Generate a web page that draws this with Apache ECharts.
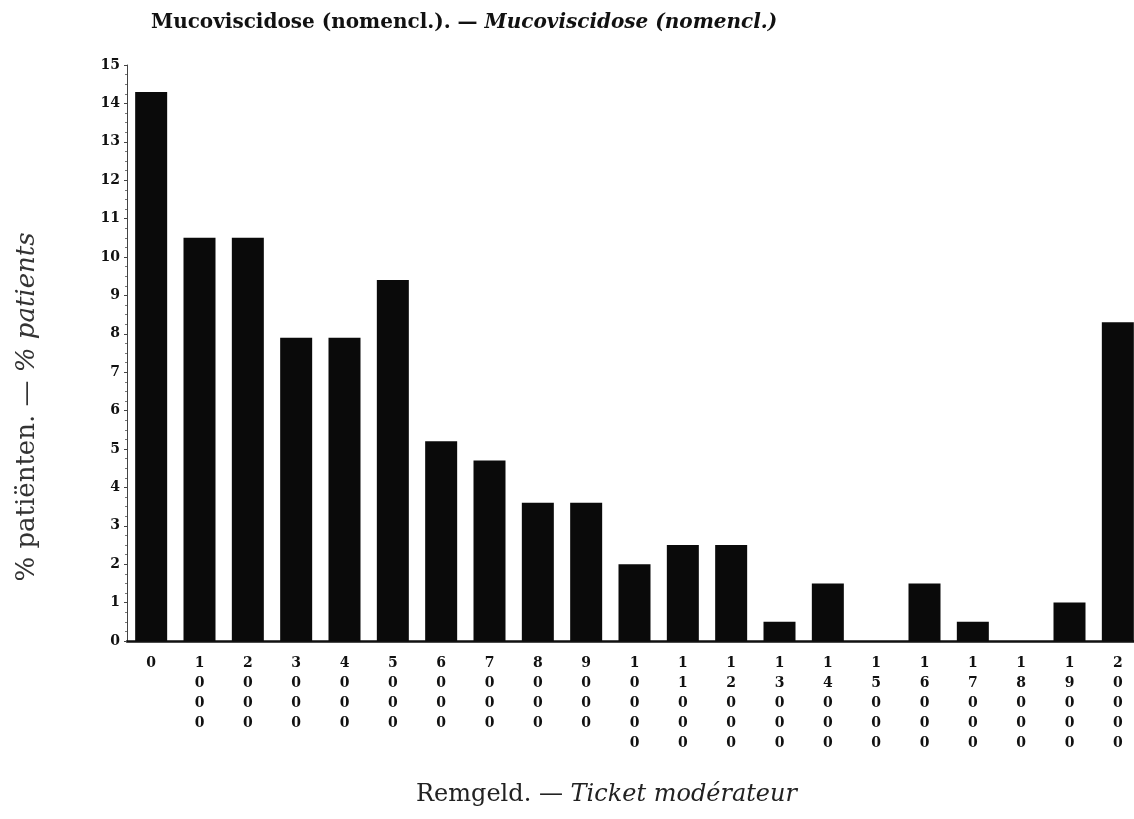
<!DOCTYPE html>
<html>
<head>
<meta charset="utf-8">
<script src="https://cdn.jsdelivr.net/npm/echarts@6/dist/echarts.min.js"></script>
<style>
  html, body { margin: 0; padding: 0; background: #fff; }
  #chart { width: 1134px; height: 819px; }
</style>
</head>
<body>
<div id="chart"></div>
<script>
// Remgeld (ticket moderateur) categories
var categories = ['0', '1000', '2000', '3000', '4000', '5000', '6000', '7000', '8000', '9000', '10000',
  '11000', '12000', '13000', '14000', '15000', '16000', '17000', '18000', '19000', '20000'];
// % patients
var values = [14.3, 10.5, 10.5, 7.9, 7.9, 9.4, 5.2, 4.7, 3.6, 3.6, 2.0,
  2.5, 2.5, 0.5, 1.5, 0, 1.5, 0.5, 0, 1.0, 8.3];

var serif = 'DejaVu Serif';
var chart = echarts.init(document.getElementById('chart'));

var option = {
  backgroundColor: '#fff',
  animation: false,
  title: [
    {
      text: '{a|Mucoviscidose (nomencl.). — }{b|Mucoviscidose (nomencl.)}',
      left: 146,
      top: 8,
      textStyle: {
        rich: {
          a: { fontFamily: serif, fontWeight: 'bold', fontSize: 20, color: '#111' },
          b: { fontFamily: serif, fontWeight: 'bold', fontStyle: 'italic', fontSize: 20, color: '#111' }
        }
      }
    },
    {
      text: '{a|Remgeld. — }{b|Ticket modérateur}',
      left: 411,
      top: 778,
      textStyle: {
        rich: {
          a: { fontFamily: serif, fontWeight: 'normal', fontSize: 24, color: '#222' },
          b: { fontFamily: serif, fontWeight: 'normal', fontStyle: 'italic', fontSize: 24, color: '#222' }
        }
      }
    }
  ],
  graphic: [
    {
      type: 'text',
      x: 27,
      y: 407,
      rotation: Math.PI / 2,
      style: {
        text: '{a|% patiënten. — }{b|% patients}',
        align: 'center',
        verticalAlign: 'middle',
        rich: {
          a: { fontFamily: serif, fontSize: 26, fill: '#333' },
          b: { fontFamily: serif, fontStyle: 'italic', fontSize: 26, fill: '#333' }
        }
      }
    }
  ],
  grid: { left: 127, top: 65, width: 1015, bottom: 178, outerBoundsMode: 'none' },
  xAxis: {
    type: 'category',
    data: categories,
    axisLine: { lineStyle: { color: '#111', width: 2.5 } },
    axisTick: { show: false },
    axisLabel: {
      interval: 0,
      margin: 12,
      verticalAlign: 'top',
      fontFamily: serif,
      fontWeight: 'bold',
      fontSize: 14,
      lineHeight: 20,
      color: '#111',
      formatter: function (v) { return v.split('').join('\n'); }
    }
  },
  yAxis: {
    type: 'value',
    min: 0,
    max: 15,
    interval: 1,
    splitLine: { show: false },
    axisLine: { show: true, lineStyle: { color: '#444', width: 1 } },
    axisTick: { show: true, inside: false, length: 3, lineStyle: { color: '#444' } },
    minorTick: { show: true, splitNumber: 4, length: 2, lineStyle: { color: '#777' } },
    axisLabel: {
      margin: 7,
      fontFamily: serif,
      fontWeight: 'bold',
      fontSize: 14,
      color: '#111'
    }
  },
  series: [
    {
      type: 'bar',
      data: values,
      barWidth: 32,
      itemStyle: { color: '#0a0a0a' }
    }
  ]
};
chart.setOption(option);
</script>
</body>
</html>
